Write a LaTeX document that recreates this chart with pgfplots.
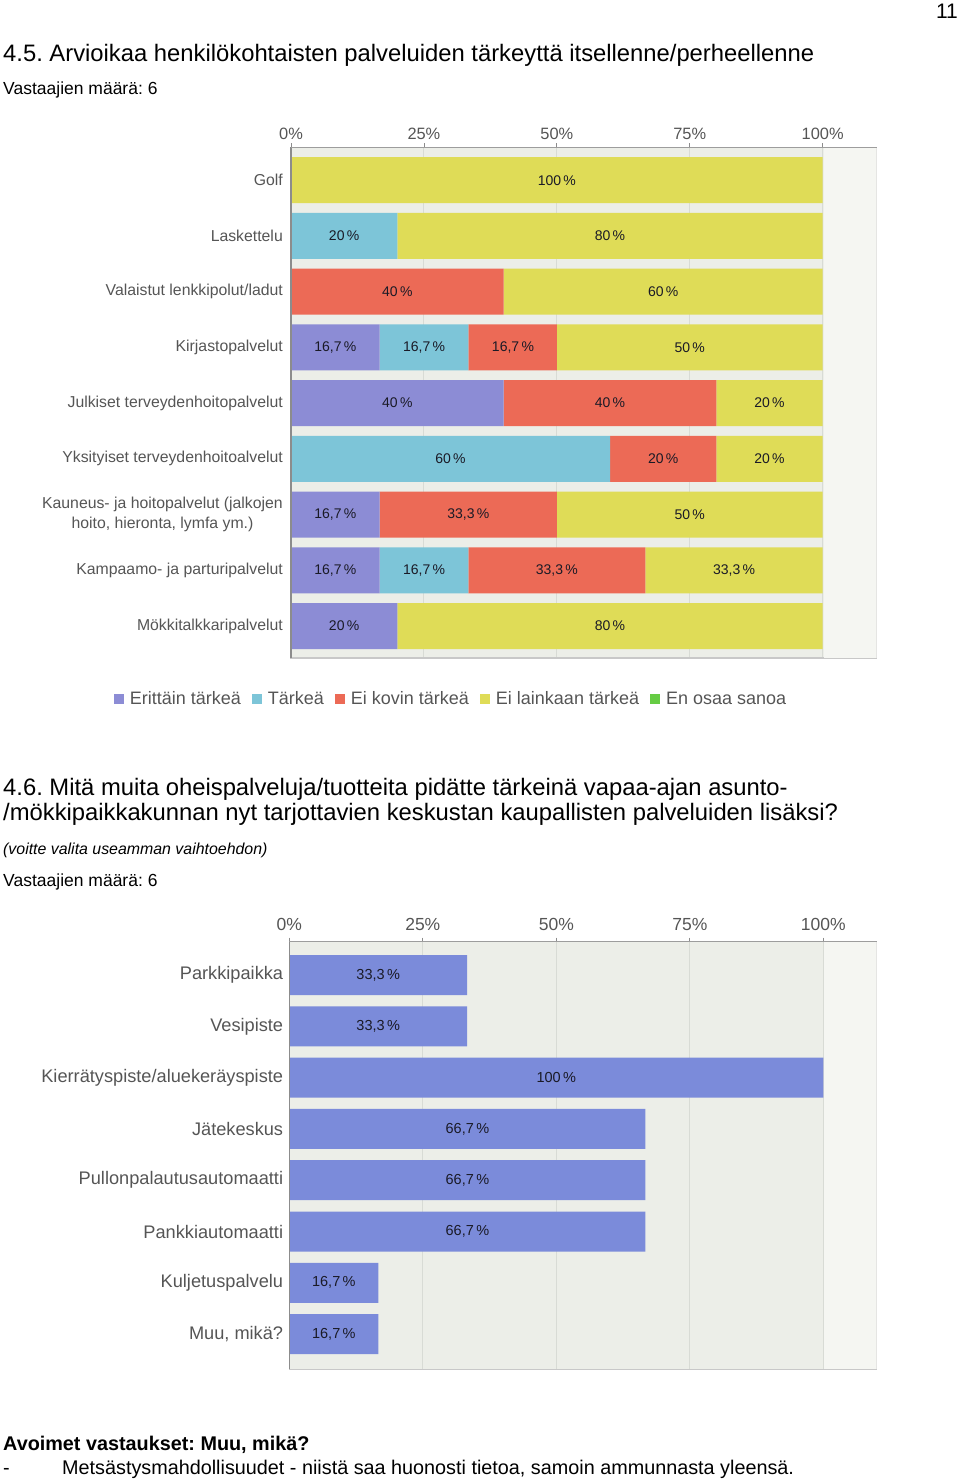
\documentclass[border=0pt]{standalone}
\usepackage{pgfplots}
\pgfplotsset{compat=1.18}
\usepackage{fontspec}
\setmainfont{Liberation Sans}
\frenchspacing
\definecolor{bgc}{HTML}{ECEEE8}
\definecolor{bgr}{HTML}{F5F6F2}
\definecolor{c1}{HTML}{8C8CD5}
\definecolor{c2}{HTML}{7DC5D8}
\definecolor{c3}{HTML}{EC6A56}
\definecolor{c4}{HTML}{DFDC57}
\definecolor{c5}{HTML}{66CC44}
\definecolor{c6}{HTML}{7B8BDA}
\definecolor{labgray}{HTML}{555555}
\definecolor{valtext}{HTML}{1A1A26}
\definecolor{gridc}{HTML}{D8DBD5}
\definecolor{frame}{HTML}{C8C8C8}
\definecolor{darkframe}{HTML}{8C8C8C}

\pgfplotstableread{
y a b c d
9 0 0 0 100
8 0 20 0 80
7 0 0 40 60
6 16.67 16.67 16.67 50
5 40 0 40 20
4 0 60 20 20
3 16.67 0 33.33 50
2 16.67 16.67 33.33 33.33
1 20 0 0 80
}\tabA

\pgfplotstableread{
x y lab
50 9 100
10 8 20
60 8 80
20 7 40
70 7 60
8.35 6 16,7
25.05 6 16,7
41.75 6 16,7
75 6 50
20 5 40
60 5 40
90 5 20
30 4 60
70 4 20
90 4 20
8.35 3 16,7
33.35 3 33,3
75 3 50
8.35 2 16,7
25.05 2 16,7
50 2 33,3
83.35 2 33,3
10 1 20
60 1 80
}\labA

\pgfplotstableread{
y v lx lab
8 33.3 16.65 33,3
7 33.3 16.65 33,3
6 100 50 100
5 66.7 33.35 66,7
4 66.7 33.35 66,7
3 66.7 33.35 66,7
2 16.7 8.35 16,7
1 16.7 8.35 16,7
}\tabB

\pgfplotsset{
  chartbase/.style={
    scale only axis,
    anchor=north west,
    xmin=0,
    enlargelimits=false,
    axis background/.style={fill=bgc},
    axis line style={draw=frame, line width=1.2pt},
    xmajorgrids,
    grid style={draw=gridc, line width=1pt},
    xtick={0,25,50,75,100},
    xticklabels={0\%,25\%,50\%,75\%,100\%},
    xtick pos=right,
    xticklabel pos=right,
    tick align=outside,
    major tick length=4pt,
    xtick style={draw=darkframe, line width=0.8pt},
    ytick style={draw=none},
    yticklabel style={text=labgray, align=center, inner sep=0pt},
    xticklabel style={text=labgray},
    after end axis/.code={
      \draw[darkframe, line width=1.6pt] (axis description cs:0,0) -- (axis description cs:0,1);
      \draw[darkframe!85, line width=1.2pt] (axis description cs:0,1) -- (axis description cs:1,1);
    },
  },
  lgsq/.style={legend image code/.code={\fill[##1,draw=none] (0pt,-5pt) rectangle (10pt,5pt);}},
}

\begin{document}
\begin{tikzpicture}
\path[use as bounding box] (0,0) rectangle (960pt,-1480pt);

\node[anchor=base east, inner sep=0pt, font=\fontsize{21}{24}\selectfont] at (958pt,-19pt) {11};
\node[anchor=base west, inner sep=0pt, font=\fontsize{23.8}{27}\selectfont] at (3pt,-62pt) {4.5. Arvioikaa henkilökohtaisten palveluiden tärkeyttä itsellenne/perheellenne};
\node[anchor=base west, inner sep=0pt, font=\fontsize{17.5}{20}\selectfont] at (3pt,-95pt) {Vastaajien määrä: 6};

% ---------- Chart 1 ----------
\begin{axis}[chartbase,
  at={(291pt,-147.3pt)},
  width=585.7pt, height=510.7pt,
  xmax=110.16, ymin=0.4255, ymax=9.591,
  xbar stacked, bar width=46pt,
  ytick={1,...,9},
  yticklabels={Mökkitalkkaripalvelut, Kampaamo- ja parturipalvelut, {Kauneus- ja hoitopalvelut (jalkojen\\hoito, hieronta, lymfa ym.)}, Yksityiset terveydenhoitoalvelut, Julkiset terveydenhoitopalvelut, Kirjastopalvelut, Valaistut lenkkipolut/ladut, Laskettelu, Golf},
  yticklabel style={font=\fontsize{15.8}{20}\selectfont, xshift=-4pt},
  xticklabel style={font=\fontsize{16.4}{19}\selectfont},
  legend style={at={(axis description cs:0.2715,-0.0803)}, anchor=center, draw=none, fill=none,
    font=\fontsize{18}{20}\selectfont, text=labgray, legend columns=5, inner sep=0pt,
    nodes={inner sep=0pt},
    /tikz/every odd column/.append style={column sep=6pt},
    /tikz/every even column/.append style={column sep=11pt}},
  legend cell align=left,
]
\fill[bgr] (axis cs:100.2,0.4255) rectangle (axis cs:110.16,9.591);
\addplot[draw=none, fill=c1, lgsq] table[x=a, y=y] {\tabA};
\addlegendentry{Erittäin tärkeä}
\addplot[draw=none, fill=c2, lgsq] table[x=b, y=y] {\tabA};
\addlegendentry{Tärkeä}
\addplot[draw=none, fill=c3, lgsq] table[x=c, y=y] {\tabA};
\addlegendentry{Ei kovin tärkeä}
\addplot[draw=none, fill=c4, lgsq] table[x=d, y=y] {\tabA};
\addlegendentry{Ei lainkaan tärkeä}
\addlegendimage{fill=c5, draw=none, lgsq}
\addlegendentry{En osaa sanoa}
\end{axis}

% labels overlay chart 1
\begin{axis}[
  scale only axis, anchor=north west,
  at={(291pt,-147.3pt)},
  width=585.7pt, height=510.7pt,
  xmin=0, xmax=110.16, ymin=0.4255, ymax=9.591,
  hide axis, clip=false,
]
\addplot[draw=none, mark=none, nodes near coords={\pgfplotspointmeta\,\%},
  nodes near coords align=center, point meta=explicit symbolic,
  every node near coord/.append style={font=\fontsize{14}{16}\selectfont, text=valtext, anchor=center}]
  table[x=x, y=y, meta=lab] {\labA};
\end{axis}

% ---------- Chart 2 text ----------
\node[anchor=base west, inner sep=0pt, font=\fontsize{23.8}{27}\selectfont] at (3pt,-795pt) {4.6. Mitä muita oheispalveluja/tuotteita pidätte tärkeinä vapaa-ajan asunto-};
\node[anchor=base west, inner sep=0pt, font=\fontsize{23.8}{27}\selectfont] at (3pt,-820pt) {/mökkipaikkakunnan nyt tarjottavien keskustan kaupallisten palveluiden lisäksi?};
\node[anchor=base west, inner sep=0pt, font=\fontsize{15.9}{18}\selectfont\itshape] at (3pt,-854pt) {(voitte valita useamman vaihtoehdon)};
\node[anchor=base west, inner sep=0pt, font=\fontsize{17.5}{20}\selectfont] at (3pt,-886pt) {Vastaajien määrä: 6};

% ---------- Chart 2 ----------
\begin{axis}[chartbase,
  at={(289.3pt,-941.7pt)},
  width=587.4pt, height=427.6pt,
  xmax=110.0, ymin=0.314, ymax=8.649,
  ytick={1,...,8},
  yticklabels={{Muu, mikä?}, Kuljetuspalvelu, Pankkiautomaatti, Pullonpalautusautomaatti, Jätekeskus, Kierrätyspiste/aluekeräyspiste, Vesipiste, Parkkipaikka},
  yticklabel style={font=\fontsize{18.2}{21}\selectfont, xshift=-2pt},
  xticklabel style={font=\fontsize{17.5}{20}\selectfont, yshift=4pt},
]
\fill[bgr] (axis cs:100.2,0.314) rectangle (axis cs:110,8.649);
\addplot[xbar, bar width=40pt, draw=none, fill=c6] table[x=v, y=y] {\tabB};
\addplot[draw=none, mark=none, nodes near coords={\pgfplotspointmeta\,\%},
  nodes near coords align=center, point meta=explicit symbolic,
  every node near coord/.append style={font=\fontsize{14.5}{17}\selectfont, text=valtext, anchor=center}]
  table[x=lx, y=y, meta=lab] {\tabB};
\end{axis}

\node[anchor=base west, inner sep=0pt, font=\fontsize{19.8}{22}\selectfont\bfseries] at (3pt,-1450pt) {Avoimet vastaukset: Muu, mikä?};
\node[anchor=base west, inner sep=0pt, font=\fontsize{19.8}{22}\selectfont] at (3pt,-1474pt) {-};
\node[anchor=base west, inner sep=0pt, font=\fontsize{19.8}{22}\selectfont] at (62pt,-1474pt) {Metsästysmahdollisuudet - niistä saa huonosti tietoa, samoin ammunnasta yleensä.};
\end{tikzpicture}
\end{document}
